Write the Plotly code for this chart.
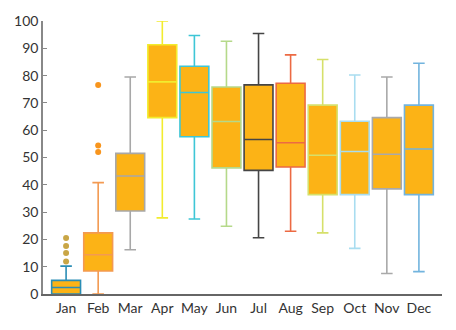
import plotly.graph_objects as go

months = ["Jan", "Feb", "Mar", "Apr", "May", "Jun",
          "Jul", "Aug", "Sep", "Oct", "Nov", "Dec"]

# five-number summaries per month
lower_whisker = [0.0, 0.0, 16.2, 27.9, 27.5, 24.8, 20.6, 23.0, 22.4, 16.7, 7.5, 8.2]
q1 = [0.0, 8.4, 30.4, 64.6, 57.6, 46.2, 45.3, 46.5, 36.4, 36.4, 38.5, 36.4]
median = [2.4, 14.4, 43.2, 77.7, 73.8, 63.2, 56.6, 55.4, 50.8, 52.2, 51.2, 53.1]
q3 = [5.0, 22.4, 51.5, 91.3, 83.4, 75.8, 76.6, 77.2, 69.2, 63.3, 64.6, 69.2]
upper_whisker = [10.2, 40.8, 79.5, 100.0, 94.7, 92.6, 95.4, 87.6, 85.9, 80.2, 79.5, 84.5]

# points beyond the whiskers
jan_outliers = [11.9, 15.0, 17.6, 20.5]
feb_outliers = [52.0, 54.4, 76.6]

line_colors = ["#2a8db5", "#f39a52", "#a8a8a8", "#f2ec2e", "#3ec6d6", "#b5d98a",
               "#454545", "#ec6a43", "#d6e06a", "#a9ddf0", "#a9a9a9", "#72b4de"]
fill_color = "#fcb316"

fig = go.Figure()

for i, m in enumerate(months):
    fig.add_trace(go.Box(
        x=[m],
        lowerfence=[lower_whisker[i]],
        q1=[q1[i]],
        median=[median[i]],
        q3=[q3[i]],
        upperfence=[upper_whisker[i]],
        boxpoints=False,
        fillcolor=fill_color,
        line=dict(color=line_colors[i], width=1.6),
        whiskerwidth=0.4,
        width=0.9,
        showlegend=False,
        hoverinfo="skip",
    ))

fig.add_trace(go.Scatter(
    x=["Jan"] * len(jan_outliers), y=jan_outliers, mode="markers",
    marker=dict(color="#c9a646", size=6), showlegend=False, hoverinfo="skip",
))
fig.add_trace(go.Scatter(
    x=["Feb"] * len(feb_outliers), y=feb_outliers, mode="markers",
    marker=dict(color="#f8951d", size=6), showlegend=False, hoverinfo="skip",
))

fig.update_layout(
    width=456, height=330,
    margin=dict(l=43, r=14, t=19, b=36),
    paper_bgcolor="white", plot_bgcolor="white",
    font=dict(family="Lato, sans-serif", size=14, color="#333333"),
    xaxis=dict(
        type="category", categoryorder="array", categoryarray=months,
        range=[-0.72, 11.72],
        showline=True, linecolor="#666666", linewidth=1.5,
        ticks="", showgrid=False, zeroline=False,
    ),
    yaxis=dict(
        range=[0, 100], dtick=10,
        showline=True, linecolor="#888888", linewidth=1.5,
        ticks="inside", ticklen=4, tickcolor="#888888",
        showgrid=False, zeroline=False,
    ),
)

fig.write_html("out.html")
